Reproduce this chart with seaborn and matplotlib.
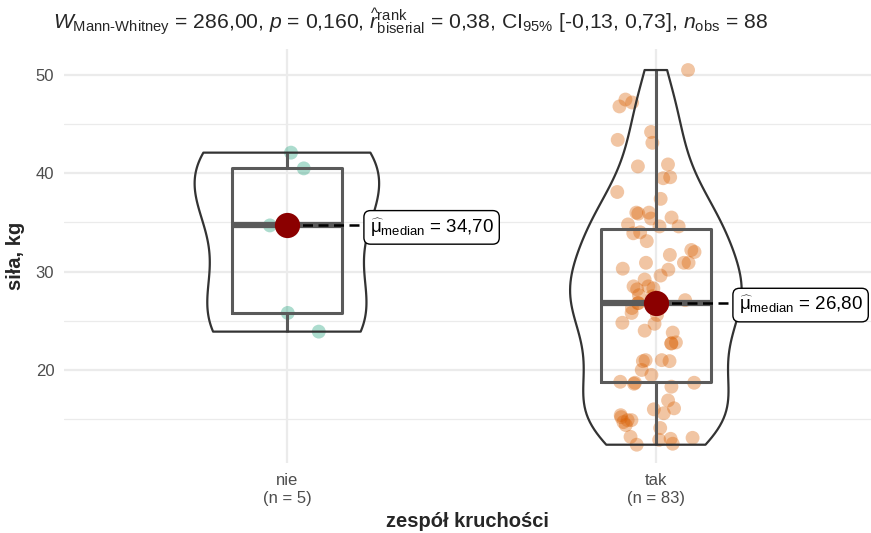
import numpy as np
import pandas as pd
import matplotlib
matplotlib.use("Agg")
import matplotlib.pyplot as plt
import seaborn as sns

# ---- data ----
groups = ["nie", "tak"]
nie_values = [42.1, 40.5, 34.7, 25.8, 23.9]
tak_values = [50.5, 47.5, 47.2, 46.8, 44.2, 43.4, 43.1, 40.9, 40.7, 39.6,
              39.5, 38.1, 37.4, 36.0, 36.0, 35.9, 35.5, 35.4, 34.8, 34.6,
              34.6, 34.0, 33.9, 33.1, 32.2, 32.0, 31.7, 30.9, 30.9, 30.9,
              30.3, 30.2, 29.6, 29.2, 28.5, 28.5, 28.3, 28.2, 27.6, 27.5,
              27.1, 26.8, 26.8, 26.8, 26.6, 26.3, 25.8, 25.6, 24.8, 24.7,
              24.0, 23.8, 22.8, 22.7, 22.7, 21.0, 20.9, 20.9, 21.0, 20.0,
              19.5, 18.8, 18.7, 18.7, 18.6, 18.3, 16.9, 16.1, 16.0, 15.6,
              15.4, 15.2, 14.9, 14.9, 14.7, 14.4, 14.1, 13.2, 13.1, 13.0,
              12.9, 12.5, 12.4]
colors = ["#1B9E77", "#D95F02"]
title_text = (r"$W_{\mathrm{Mann‐Whitney}}$ = 286,00, $p$ = 0,160, "
              r"$\widehat{r}_{\mathrm{biserial}}^{\mathrm{rank}}$ = 0,38, "
              r"CI$_{95\%}$ [-0,13, 0,73], $n_{\mathrm{obs}}$ = 88")
y_ticks = [20, 30, 40, 50]
y_minor = [15, 25, 35, 45]

df = pd.DataFrame({
    "group": ["nie"] * len(nie_values) + ["tak"] * len(tak_values),
    "value": nie_values + tak_values,
})

sns.set_style("white")
plt.rcParams["font.family"] = ["Liberation Sans", "DejaVu Sans"]
plt.rcParams["mathtext.fontset"] = "custom"
plt.rcParams["mathtext.rm"] = "Liberation Sans"
plt.rcParams["mathtext.it"] = "Liberation Sans:italic"
plt.rcParams["mathtext.bf"] = "Liberation Sans:bold"

W, H = 871, 533
fig = plt.figure(figsize=(W / 100, H / 100), dpi=100)
ax = fig.add_axes([64 / W, 1 - 463 / H, (871 - 64) / W, (463 - 49) / H])


def nrd0(kde):
    x = np.asarray(kde.dataset[0])
    sd = x.std(ddof=1)
    q75, q25 = np.percentile(x, [75, 25])
    lo = min(sd, (q75 - q25) / 1.34)
    bw = 0.9 * lo * len(x) ** (-0.2)
    return bw / sd


np.random.seed(3)
sns.stripplot(data=df, x="group", y="value", hue="group", order=groups,
              hue_order=groups, palette=colors, jitter=0.11, size=10,
              alpha=0.36, linewidth=0, legend=False, ax=ax, zorder=2)

sns.boxplot(data=df, x="group", y="value", order=groups, width=0.3,
            fill=False, color="#5A5A5A", linewidth=2.2, showfliers=False,
            medianprops={"linewidth": 4.5, "color": "#5A5A5A"},
            capprops={"linewidth": 0}, ax=ax, zorder=3)

sns.violinplot(data=df, x="group", y="value", order=groups, width=0.5,
               fill=False, color="#333333", linewidth=1.6, inner=None, cut=0,
               density_norm="area", bw_method=nrd0, ax=ax, zorder=4)

for i, g in enumerate(groups):
    vals = df.loc[df["group"] == g, "value"]
    med = float(np.median(vals))
    ax.plot([i, i + 0.215], [med, med], color="black", lw=1.8,
            ls=(0, (4, 2.2)), zorder=6)
    ax.scatter([i], [med], s=330, color="#8B0000", zorder=7, linewidths=0)
    lab = r"$\widehat{\mathrm{μ}}_{\mathrm{median}}$ = " + f"{med:.2f}".replace(".", ",")
    ax.text(i + 0.224, med - 0.2, lab, ha="left", va="center", fontsize=13.5,
            color="black", zorder=8,
            bbox=dict(boxstyle="round,pad=0.3,rounding_size=0.35",
                      fc="white", ec="black", lw=1.0))

ax.set_xlim(-0.604, 1.583)
ax.set_ylim(10.54, 52.64)
ax.set_yticks(y_ticks)
ax.set_yticks(y_minor, minor=True)
ax.set_xticks([0, 1])
ax.set_xticklabels([f"{g}\n(n = {int((df['group'] == g).sum())})" for g in groups],
                   linespacing=1.3)
ax.grid(True, which="major", axis="both", color="#EBEBEB", lw=1.6, zorder=0)
ax.grid(True, which="minor", axis="y", color="#EBEBEB", lw=0.9, zorder=0)
ax.set_axisbelow(True)
for s in ax.spines.values():
    s.set_visible(False)
ax.tick_params(axis="both", which="major", length=4, width=1.3,
               color="#333333", labelcolor="#4D4D4D", labelsize=12, pad=3)
ax.tick_params(axis="both", which="minor", length=0)

ax.set_xlabel("zespół kruchości", fontsize=14.5, fontweight="bold", labelpad=4)
ax.set_ylabel("siła, kg", fontsize=14.5, fontweight="bold", labelpad=8)

fig.text(53 / W, 1 - 22 / H, title_text, ha="left", va="center", fontsize=15.2)

fig.savefig("out.png", dpi=100)
